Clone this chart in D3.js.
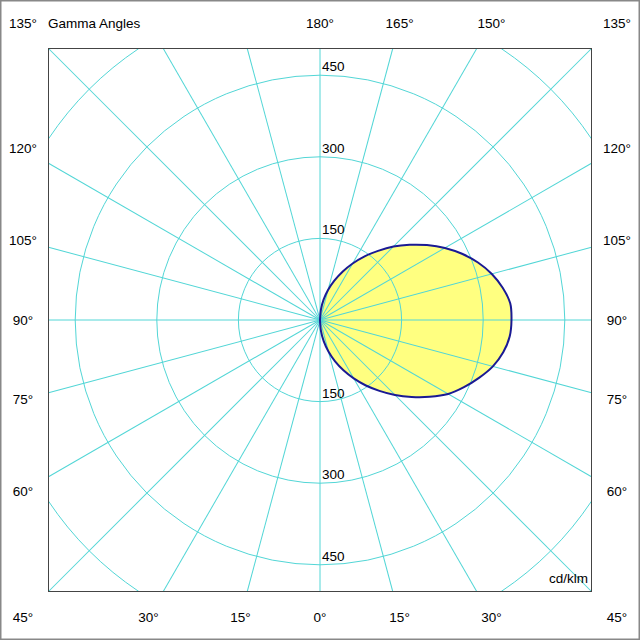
<!DOCTYPE html>
<html><head><meta charset="utf-8">
<script src="https://cdn.jsdelivr.net/npm/d3@7"></script>
<style>html,body{margin:0;padding:0;background:#fff;} svg{display:block;} text{font-family:"Liberation Sans",Arial,sans-serif;}</style>
</head><body>
<svg id="c" width="640" height="640"></svg>
<script>
// Data: gamma angle (deg) -> luminous intensity (cd/klm)
const gammaAngles = [0,5,10,15,20,25,30,35,40,45,50,55,60,65,70,75,80,85,90,95,100,105,110,115,120,125,130,135,140,145,150,155,160,165,170,175,180];
const intensity   = [0,20,40,60,81,102,124,147,170,195,220,246,272,292,311,329,342,350,352,351,341,327,309,288,265,240,215,191,166,143,120,98,77,57,38,19,0];
const ringValues = [150,300,450,600,750];
const ringLabels = [150,300,450];
const spokeAngles = d3.range(0,360,15);
const rightLabels = [0,15,30,45,60,75,90,105,120,135,150,165,180];
const leftLabels  = [15,30,45,60,75,90,105,120,135];
const title = "Gamma Angles";
const unitLabel = "cd/klm";

const W=640,H=640,cx=320,cy=320,half=272;
const svg=d3.select("#c");
const grid="#52d6d6";
const r=d3.scaleLinear().domain([0,500]).range([0,272]);
const ang=g=>Math.PI - g*Math.PI/180; // d3 radial angle (0=up, clockwise)

// outer border
svg.append("rect").attr("x",0.75).attr("y",0.75).attr("width",W-1.5).attr("height",H-1.5)
  .attr("fill","#fff").attr("stroke","#888").attr("stroke-width",1.5);

svg.append("clipPath").attr("id","clp").append("rect")
  .attr("x",cx-half).attr("y",cy-half).attr("width",2*half).attr("height",2*half);

const layer=()=>svg.append("g").attr("clip-path","url(#clp)").append("g").attr("transform",`translate(${cx},${cy})`);

const pts=gammaAngles.map((a,i)=>[ang(a),r(intensity[i])]);
const line=d3.lineRadial().angle(d=>d[0]).radius(d=>d[1]).curve(d3.curveCatmullRom);

// 1. fill
layer().append("path").attr("d",line(pts)+"Z").attr("fill","#ffff80").attr("stroke","none");

// 2. rings
layer().selectAll("circle").data(ringValues).join("circle")
  .attr("r",d=>r(d)).attr("fill","none").attr("stroke",grid).attr("stroke-width",1);

// 3. spokes: rotated segments reaching the square frame
const spokes=svg.append("g").attr("transform",`translate(${cx},${cy})`);
spokes.selectAll("line").data(spokeAngles).join("line")
  .attr("x1",0).attr("y1",0).attr("x2",0)
  .attr("y2",a=>{const t=a*Math.PI/180;return (half-0.5)/Math.max(Math.abs(Math.sin(t)),Math.abs(Math.cos(t)));})
  .attr("transform",a=>`rotate(${-a})`)
  .attr("stroke",grid).attr("stroke-width",1).attr("fill","none");

// 4. curve stroke
layer().append("path").attr("d",line(pts)).attr("fill","none").attr("stroke","#1a1a94").attr("stroke-width",2);

// plot frame
svg.append("rect").attr("x",cx-half+0.5).attr("y",cy-half+0.5).attr("width",2*half-1).attr("height",2*half-1)
  .attr("fill","none").attr("stroke","#444").attr("stroke-width",1);

// ring labels
const g=svg.append("g").attr("transform",`translate(${cx},${cy})`);
ringLabels.forEach(v=>{
  [-1,1].forEach(s=>{
    g.append("text").attr("x",2).attr("y",s*r(v)-4).attr("font-size",13.5).attr("fill","#000").text(v);
  });
});

// angle labels
const D=297;
function placeLabel(gam,side){
  const t=gam*Math.PI/180;
  const dx=side*Math.sin(t), dy=Math.cos(t);
  const k=D/Math.max(Math.abs(dx),Math.abs(dy));
  svg.append("text").attr("x",cx+dx*k).attr("y",cy+dy*k).attr("dy","0.35em")
    .attr("text-anchor","middle").attr("font-size",13.5).attr("fill","#000").text(gam+"°");
}
rightLabels.forEach(a=>placeLabel(a,1));
leftLabels.forEach(a=>placeLabel(a,-1));

svg.append("text").attr("x",48).attr("y",23).attr("dy","0.35em").attr("font-size",13.5).text(title);
svg.append("text").attr("x",588).attr("y",583).attr("text-anchor","end").attr("font-size",13.5).text(unitLabel);
</script>
</body></html>
